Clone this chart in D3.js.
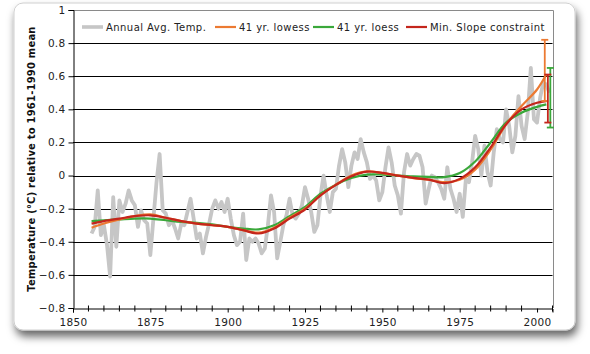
<!DOCTYPE html>
<html>
<head>
<meta charset="utf-8">
<script src="https://cdn.jsdelivr.net/npm/d3@7"></script>
<style>
  body { margin: 0; background: #fff; }
  text { font-family: "DejaVu Sans", Verdana, sans-serif; }
</style>
</head>
<body>
<div class="chart"></div>
<script>

// annual global temperature anomaly, 1856 onwards
var annualStart = 1856
var annualTemp = [
  -0.35, -0.31, -0.09, -0.36, -0.30, -0.42, -0.61, -0.13, -0.43, -0.15,
  -0.22, -0.17, -0.09, -0.15, -0.18, -0.31, -0.21, -0.27, -0.29, -0.48,
  -0.26, -0.04, 0.13, -0.21, -0.23, -0.30, -0.27, -0.32, -0.38, -0.29,
  -0.30, -0.22, -0.14, -0.26, -0.38, -0.35, -0.47, -0.37, -0.29, -0.20,
  -0.15, -0.20, -0.16, -0.22, -0.14, -0.26, -0.36, -0.42, -0.40, -0.23,
  -0.51, -0.38, -0.40, -0.38, -0.41, -0.47, -0.44, -0.30, -0.12, -0.22,
  -0.50, -0.40, -0.30, -0.24, -0.14, -0.24, -0.26, -0.23, -0.18, -0.07,
  -0.14, -0.22, -0.34, -0.30, -0.12, 0.00, -0.12, -0.22, -0.10, -0.08,
  0.06, 0.16, 0.08, -0.07, 0.06, 0.14, 0.10, 0.22, 0.14, 0.08,
  -0.02, 0.00, -0.03, -0.15, -0.10, 0.05, 0.17, 0.08, -0.06, -0.12,
  -0.23, 0.02, 0.13, 0.06, 0.10, 0.13, 0.12, 0.05, -0.17, -0.08,
  0.00, -0.01, -0.04, -0.08, -0.14, 0.05, -0.08, -0.14, -0.22, -0.11,
  -0.25, -0.02, -0.04, 0.08, 0.24, 0.16, 0.00, 0.18, 0.02, -0.06,
  0.14, 0.28, 0.22, 0.20, 0.40, 0.30, 0.14, 0.24, 0.48, 0.30,
  0.22, 0.38, 0.65, 0.34, 0.32, 0.47, 0.56, 0.55, 0.50
]

// smoothed curves
var smoothYears = [1856, 1860, 1865, 1870, 1875, 1880, 1885, 1890, 1895, 1900,
  1905, 1910, 1915, 1920, 1925, 1930, 1935, 1940, 1945, 1950,
  1955, 1960, 1965, 1970, 1975, 1980, 1985, 1990, 1995, 2000, 2003]
var lowess = [-0.315, -0.29, -0.265, -0.245, -0.235, -0.255, -0.275, -0.29, -0.30, -0.31,
  -0.33, -0.345, -0.315, -0.255, -0.20, -0.12, -0.055, 0.0, 0.025, 0.015,
  0.0, -0.015, -0.025, -0.04, -0.025, 0.036, 0.156, 0.31, 0.42, 0.52, 0.61]
var loess = [-0.275, -0.27, -0.265, -0.26, -0.26, -0.27, -0.28, -0.285, -0.295, -0.31,
  -0.32, -0.325, -0.30, -0.245, -0.19, -0.11, -0.055, -0.015, 0.006, 0.006,
  0.0, -0.005, -0.008, -0.01, 0.015, 0.085, 0.20, 0.32, 0.38, 0.415, 0.43]
var minSlope = [-0.29, -0.275, -0.26, -0.245, -0.24, -0.255, -0.275, -0.29, -0.30, -0.31,
  -0.33, -0.35, -0.32, -0.26, -0.205, -0.12, -0.056, -0.004, 0.024, 0.016,
  0.0, -0.014, -0.025, -0.046, -0.02, 0.05, 0.17, 0.31, 0.40, 0.44, 0.45]

// end-point uncertainty bars
var barNames = ['lowess', 'loess', 'minSlope']
var barYears = [2002.5, 2004.3, 2003.5]
var barLow = [0.45, 0.29, 0.32]
var barHigh = [0.82, 0.65, 0.61]

var legendNames = ['Annual Avg. Temp.', '41 yr. lowess', '41 yr. loess', 'Min. Slope constraint']
var yTicks = [-0.8, -0.6, -0.4, -0.2, 0, 0.2, 0.4, 0.6, 0.8, 1]
var xTicks = [1850, 1875, 1900, 1925, 1950, 1975, 2000]

var colors = {
    annual: '#c6c6c6',
    lowess: '#ec7a32',
    loess: '#3aa83a',
    minSlope: '#c4261c'
}

var svg = d3.select('.chart')
    .append('svg')
    .attr('width', 590)
    .attr('height', 354)

var defs = svg.append('defs')
var shadow = defs.append('filter')
    .attr('id', 'shadow')
    .attr('x', '-10%').attr('y', '-10%')
    .attr('width', '130%').attr('height', '130%')
shadow.append('feDropShadow')
    .attr('dx', 2)
    .attr('dy', 6)
    .attr('stdDeviation', 4.5)
    .attr('flood-color', '#000')
    .attr('flood-opacity', 0.6)

// card behind the chart
svg.append('rect')
    .attr('x', 14).attr('y', 3)
    .attr('width', 561).attr('height', 327)
    .attr('rx', 9)
    .attr('fill', '#fff')
    .attr('stroke', '#cfcfcf')
    .attr('filter', 'url(#shadow)')

var x = d3.scaleLinear().domain([1850, 2005]).range([73, 552.5])
var y = d3.scaleLinear().domain([-0.8, 1]).range([308, 10])

// gridlines
svg.append('g')
    .selectAll('line')
    .data(yTicks.filter(function(d) { return d > -0.8 && d < 1; }))
    .enter()
    .append('line')
    .attr('x1', x(1850)).attr('x2', x(2005))
    .attr('y1', function(d) { return Math.round(y(d)) + 0.5; })
    .attr('y2', function(d) { return Math.round(y(d)) + 0.5; })
    .attr('stroke', '#000')

// plot border top / right
svg.append('path')
    .attr('d', 'M' + x(1850) + ',' + (Math.round(y(1)) + 0.5) + 'H' + (Math.round(x(2005)) + 0.5) + 'V' + y(-0.8))
    .attr('fill', 'none')
    .attr('stroke', '#8a8a8a')

// y axis
var yAxis = svg.append('g')
    .attr('transform', 'translate(' + (Math.round(x(1850)) + 0.5) + ',0)')
    .call(d3.axisLeft(y).tickValues(yTicks).tickSize(5).tickPadding(3)
        .tickFormat(function(d) { return d3.format('')(+d.toFixed(1)); }))
yAxis.select('.domain').attr('stroke', '#000')
yAxis.selectAll('text').attr('font-size', 10.5).attr('fill', '#222')
    .style('font-family', '"DejaVu Sans", Verdana, sans-serif')
    .style('letter-spacing', '0.3px')

// x axis
var xAxis = svg.append('g')
    .attr('transform', 'translate(0,' + (Math.round(y(-0.8)) + 0.5) + ')')
    .call(d3.axisBottom(x).tickValues(xTicks).tickSize(4).tickPadding(6).tickFormat(d3.format('d')))
xAxis.select('.domain').attr('stroke', '#000')
xAxis.selectAll('text').attr('font-size', 10.5).attr('fill', '#222')
    .style('font-family', '"DejaVu Sans", Verdana, sans-serif')
    .style('letter-spacing', '0.3px')
xAxis.selectAll('.minor')
    .data(d3.range(1855, 2006, 5).filter(function(d) { return d % 25 != 0; }))
    .enter()
    .append('line')
    .attr('class', 'minor')
    .attr('x1', function(d) { return x(d); })
    .attr('x2', function(d) { return x(d); })
    .attr('y1', -3).attr('y2', 3)
    .attr('stroke', '#000')

// y title
svg.append('text')
    .attr('transform', 'translate(35,159) rotate(-90)')
    .attr('text-anchor', 'middle')
    .attr('font-size', 10)
    .attr('font-weight', 'bold')
    .attr('fill', '#111')
    .style('letter-spacing', '0.2px')
    .text('Temperature (°C) relative to 1961-1990 mean')

// series
var annualData = annualTemp.map(function(v, i) { return [annualStart + i, v]; })

var line = d3.line()
    .x(function(d) { return x(d[0]); })
    .y(function(d) { return y(d[1]); })

svg.append('path')
    .datum(annualData)
    .attr('d', line)
    .attr('fill', 'none')
    .attr('stroke', colors.annual)
    .attr('stroke-width', 3.8)
    .attr('stroke-linejoin', 'round')

var smooth = d3.line()
    .curve(d3.curveCatmullRom.alpha(0.5))
    .x(function(d) { return x(d[0]); })
    .y(function(d) { return y(d[1]); })

var curves = [['loess', loess], ['lowess', lowess], ['minSlope', minSlope]]
curves.forEach(function(c) {
    svg.append('path')
        .datum(smoothYears.map(function(yr, i) { return [yr, c[1][i]]; }))
        .attr('d', smooth)
        .attr('fill', 'none')
        .attr('stroke', colors[c[0]])
        .attr('stroke-width', 2.2)
})

// error bars
var bars = svg.append('g')
    .selectAll('g')
    .data(barNames)
    .enter()
    .append('g')
    .attr('stroke', function(d) { return colors[d]; })
    .attr('stroke-width', 1.8)

bars.append('line')
    .attr('x1', function(d, i) { return x(barYears[i]); })
    .attr('x2', function(d, i) { return x(barYears[i]); })
    .attr('y1', function(d, i) { return y(barLow[i]); })
    .attr('y2', function(d, i) { return y(barHigh[i]); })
bars.append('line')
    .attr('x1', function(d, i) { return x(barYears[i]) - 3.5; })
    .attr('x2', function(d, i) { return x(barYears[i]) + 3.5; })
    .attr('y1', function(d, i) { return y(barHigh[i]); })
    .attr('y2', function(d, i) { return y(barHigh[i]); })
bars.append('line')
    .attr('x1', function(d, i) { return x(barYears[i]) - 3.5; })
    .attr('x2', function(d, i) { return x(barYears[i]) + 3.5; })
    .attr('y1', function(d, i) { return y(barLow[i]); })
    .attr('y2', function(d, i) { return y(barLow[i]); })

// legend
var legendX = [82, 215, 313, 406]
var legendColors = [colors.annual, colors.lowess, colors.loess, colors.minSlope]
var legend = svg.append('g')
    .selectAll('g')
    .data(legendNames)
    .enter()
    .append('g')
    .attr('transform', function(d, i) { return 'translate(' + legendX[i] + ',27)'; })

legend.append('line')
    .attr('x1', 0).attr('x2', 21)
    .attr('stroke', function(d, i) { return legendColors[i]; })
    .attr('stroke-width', function(d, i) { return i == 0 ? 3.6 : 2.2; })

legend.append('text')
    .attr('x', 24)
    .attr('dy', '.35em')
    .attr('font-size', 10)
    .attr('fill', '#222')
    .style('letter-spacing', '0.45px')
    .text(function(d) { return d; })

</script>
</body>
</html>
